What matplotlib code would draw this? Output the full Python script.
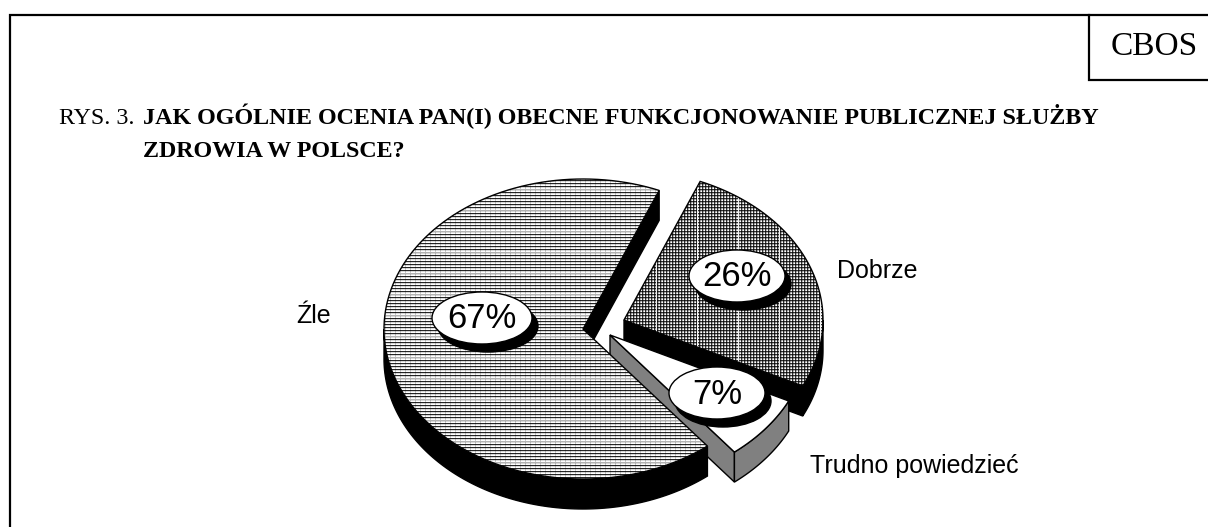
#!/usr/bin/python3
import numpy as np
import matplotlib
matplotlib.use('Agg')
import matplotlib.pyplot as plt
from matplotlib.patches import Polygon, Ellipse

# data
labels = ['Dobrze', 'Trudno powiedzieć', 'Źle']
values = [26, 7, 67]
percent_text = ['26%', '7%', '67%']
title_prefix = 'RYS. 3. '
title_line1 = 'JAK OGÓLNIE OCENIA PAN(I) OBECNE FUNKCJONOWANIE PUBLICZNEJ SŁUŻBY'
title_line2 = 'ZDROWIA W POLSCE?'

# pie geometry, in pixels
RX, RY, DEPTH = 199, 150, 30
START = 67.5
centers = [(624, 320), (610, 335), (583, 329)]
badges = [(737, 276, 96), (717, 393, 96), (482, 318, 100)]
label_pos = [(837, 278), (810, 473), (296, 323)]

fig = plt.figure(figsize=(12.08, 5.27), dpi=100)
ax = fig.add_axes([0, 0, 1, 1])


def arc(c, t1, t2, dy=0):
    t = np.radians(np.linspace(t1, t2, 120))
    return np.column_stack([c[0] + RX * np.cos(t), c[1] - RY * np.sin(t) + dy])


def edge(c, t):
    return arc(c, t, t)[:1]


def wall(pts, color, z):
    ax.add_patch(Polygon(pts, closed=True, fc=color, ec='black', lw=1, zorder=z))


def radial_wall(c, t, color, z):
    p = edge(c, t)
    pts = [c, p[0], (p[0][0], p[0][1] + DEPTH), (c[0], c[1] + DEPTH)]
    wall(pts, color, z)


def rim(c, t1, t2, color, z):
    pts = np.vstack([arc(c, t1, t2), arc(c, t2, t1, DEPTH)])
    wall(pts, color, z)


def texture(kind):
    h, w = 527, 1208
    img = np.ones((h, w))
    if kind == 'grid':
        img[::3, :] *= 0.2
        img[1::3, :] *= 0.75
        img[:, ::3] *= 0.2
        img[:, 1::3] *= 0.75
        img[:, ::41] = 0.95
    else:
        img[::3, :] *= 0.15
        img[1::3, :] *= 0.85
        img[:, ::5] *= 0.8
        img[::21, :] = 0.7
    return img


def top(c, t1, t2, kind, z):
    pts = np.vstack([[c], arc(c, t1, t2)])
    ax.add_patch(Polygon(pts, closed=True, fc='white', ec='none', zorder=z))
    if kind is not None:
        im = ax.imshow(texture(kind), cmap='gray', vmin=0, vmax=1, extent=(0, 1208, 527, 0),
                       interpolation='nearest', aspect='auto', zorder=z + 0.1)
        im.set_clip_path(Polygon(pts, closed=True, transform=ax.transData))
    ax.add_patch(Polygon(pts, closed=True, fc='none', ec='black', lw=1, zorder=z + 0.2))


# angles come from the values, going clockwise from START
a_dob = START - values[0] * 3.6
a_tru = a_dob - values[1] * 3.6
a_zle = a_tru + 360

# Dobrze
radial_wall(centers[0], a_dob, 'black', 1)
rim(centers[0], a_dob, 0, 'black', 1)
top(centers[0], a_dob, START, 'grid', 2)
# Trudno powiedziec
radial_wall(centers[1], a_tru, '#808080', 3)
rim(centers[1], a_tru, a_dob, '#808080', 3)
top(centers[1], a_tru, a_dob, None, 4)
# Zle
radial_wall(centers[2], START, 'black', 5)
rim(centers[2], 180, a_zle, 'black', 5)
top(centers[2], START, a_zle, 'lines', 6)

for (x, y, w), s in zip(badges, percent_text):
    ax.add_patch(Ellipse((x + 6, y + 8), w, 52, fc='black', ec='black', zorder=8))
    ax.add_patch(Ellipse((x, y), w, 52, fc='white', ec='black', lw=1, zorder=9))
    ax.text(x, y + 1, s, family='Liberation Sans', fontsize=25, ha='center', va='center', zorder=10)

for (x, y), s in zip(label_pos, labels):
    ax.text(x, y, s, family='Liberation Sans', fontsize=18, ha='left', va='baseline', zorder=10)

# frame and CBOS box
ax.plot([10, 10, 1208], [527, 15, 15], color='black', lw=1.6, solid_joinstyle='miter')
ax.plot([1089, 1089, 1208], [15, 80, 80], color='black', lw=1.6, solid_joinstyle='miter')
ax.text(1154, 55, 'CBOS', family='Liberation Serif', fontsize=24, ha='center', va='baseline')

# title
ax.text(59, 124, title_prefix, family='Liberation Serif', fontsize=17.3, va='baseline')
ax.text(143, 124, title_line1, family='Liberation Serif', weight='bold', fontsize=17.3, va='baseline')
ax.text(143, 157, title_line2, family='Liberation Serif', weight='bold', fontsize=17.3, va='baseline')

ax.set_xlim(0, 1208)
ax.set_ylim(527, 0)
ax.axis('off')
fig.savefig('out.png', dpi=100)
